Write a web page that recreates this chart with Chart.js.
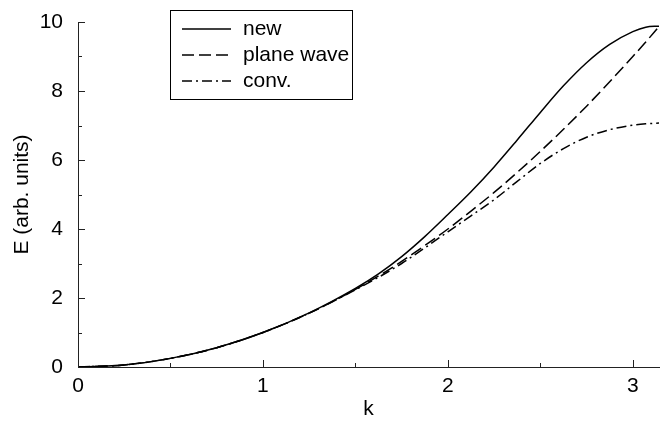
<!DOCTYPE html>
<html>
<head>
<meta charset="utf-8">
<script src="https://cdn.jsdelivr.net/npm/chart.js@4.4.1/dist/chart.umd.min.js"></script>
<style>
    html, body { margin: 0; padding: 0; background: #fff; }
    #wrap { width: 671px; height: 422px; }
</style>
</head>
<body>
<div id="wrap"><canvas id="grafica"></canvas></div>
<script>
// Data
const kValues = [0, 0.25, 0.5, 0.75, 1, 1.25, 1.5, 1.625, 1.75, 1.875, 2, 2.125, 2.25, 2.375,
                 2.5, 2.625, 2.75, 2.875, 3, 3.07, 3.1416];
const newE = [0, 0.06, 0.25, 0.56, 1.0, 1.57, 2.28, 2.7, 3.2, 3.78, 4.42, 5.08, 5.8, 6.58,
              7.38, 8.15, 8.82, 9.35, 9.72, 9.85, 9.88];
const planeWave = [0, 0.06, 0.25, 0.56, 1.0, 1.56, 2.25, 2.64, 3.06, 3.52, 4.0, 4.52, 5.06, 5.64,
                   6.25, 6.89, 7.56, 8.27, 9.0, 9.42, 9.87];
const conv = [0, 0.06, 0.25, 0.56, 1.0, 1.56, 2.24, 2.6, 3.0, 3.45, 3.92, 4.38, 4.85, 5.38,
              5.9, 6.33, 6.66, 6.88, 7.01, 7.05, 7.07];

const xTicks = [0, 1, 2, 3];
const xMinorTicks = [0.5, 1.5, 2.5];
const yTicks = [0, 2, 4, 6, 8, 10];
const yMinorTicks = [1, 3, 5, 7, 9];

const fuente = 'Liberation Sans, Arial, Helvetica, sans-serif';
const tamFuente = 21;

function puntos(valores) {
    return kValues.map((k, i) => ({ x: k, y: valores[i] }));
}

// Inward ticks, major and minor
const ticksPlugin = {
    id: 'ticksDentro',
    afterDraw(chart) {
        const ctx = chart.ctx;
        const xs = chart.scales.x;
        const ys = chart.scales.y;
        const area = chart.chartArea;
        ctx.save();
        ctx.strokeStyle = '#222';
        ctx.lineWidth = 1;
        ctx.beginPath();
        xTicks.concat(xMinorTicks).forEach(v => {
            const largo = xTicks.includes(v) ? 7 : 4;
            const px = Math.round(xs.getPixelForValue(v)) + 0.5;
            ctx.moveTo(px, area.bottom);
            ctx.lineTo(px, area.bottom - largo);
        });
        yTicks.concat(yMinorTicks).forEach(v => {
            const largo = yTicks.includes(v) ? 7 : 4;
            const py = Math.round(ys.getPixelForValue(v)) + 0.5;
            ctx.moveTo(area.left, py);
            ctx.lineTo(area.left + largo, py);
        });
        ctx.stroke();
        ctx.restore();
    }
};

// Boxed legend inside the plot, built from the datasets
const leyendaPlugin = {
    id: 'leyendaCaja',
    afterDraw(chart) {
        const ctx = chart.ctx;
        const caja = { x: 170.5, y: 10.5, w: 182, h: 89 };
        ctx.save();
        ctx.fillStyle = '#fff';
        ctx.fillRect(caja.x, caja.y, caja.w, caja.h);
        ctx.strokeStyle = '#000';
        ctx.lineWidth = 1;
        ctx.strokeRect(caja.x, caja.y, caja.w, caja.h);
        chart.data.datasets.forEach((ds, i) => {
            const y = 29 + i * 26;
            ctx.beginPath();
            ctx.setLineDash(ds.borderDash || []);
            ctx.strokeStyle = ds.borderColor;
            ctx.lineWidth = ds.borderWidth;
            ctx.moveTo(182, y);
            ctx.lineTo(231, y);
            ctx.stroke();
            ctx.setLineDash([]);
            ctx.fillStyle = '#000';
            ctx.font = tamFuente + 'px ' + fuente;
            ctx.textBaseline = 'middle';
            ctx.textAlign = 'left';
            ctx.fillText(ds.label, 243, y);
        });
        ctx.restore();
    }
};

const ctx = document.getElementById('grafica').getContext('2d');
const grafica = new Chart(ctx, {
    type: 'line',
    data: {
        datasets: [
            {
                label: 'new',
                data: puntos(newE),
                borderColor: '#000',
                borderWidth: 1.5,
                borderDash: [],
                pointRadius: 0,
                cubicInterpolationMode: 'monotone',
                fill: false
            },
            {
                label: 'plane wave',
                data: puntos(planeWave),
                borderColor: '#000',
                borderWidth: 1.5,
                borderDash: [12, 5],
                pointRadius: 0,
                cubicInterpolationMode: 'monotone',
                fill: false
            },
            {
                label: 'conv.',
                data: puntos(conv),
                borderColor: '#000',
                borderWidth: 1.5,
                borderDash: [10, 4, 2, 4],
                pointRadius: 0,
                cubicInterpolationMode: 'monotone',
                fill: false
            }
        ]
    },
    options: {
        responsive: true,
        maintainAspectRatio: false,
        animation: false,
        layout: { padding: { top: 22, right: 12, bottom: 0, left: 0 } },
        plugins: {
            legend: { display: false },
            tooltip: { enabled: false }
        },
        scales: {
            x: {
                type: 'linear',
                min: 0,
                max: Math.PI,
                afterBuildTicks: scale => { scale.ticks = xTicks.map(v => ({ value: v })); },
                afterFit: scale => { scale.height = 55; },
                grid: { display: true, drawOnChartArea: false, drawTicks: false },
                border: { display: true, color: '#222', width: 1 },
                ticks: {
                    color: '#000',
                    padding: 7,
                    maxRotation: 0,
                    font: { family: fuente, size: tamFuente }
                },
                title: {
                    display: true,
                    text: 'k',
                    color: '#000',
                    padding: { top: 0, bottom: 0 },
                    font: { family: fuente, size: tamFuente }
                }
            },
            y: {
                min: 0,
                max: 10,
                afterBuildTicks: scale => { scale.ticks = yTicks.map(v => ({ value: v })); },
                afterFit: scale => {
                    scale.width = 78;
                    // the label padding should not push the plot top down
                    scale.paddingTop = 0;
                    scale.paddingBottom = 0;
                },
                grid: { display: true, drawOnChartArea: false, drawTicks: false },
                border: { display: true, color: '#222', width: 1 },
                ticks: {
                    color: '#000',
                    padding: 15,
                    font: { family: fuente, size: tamFuente }
                },
                title: {
                    display: true,
                    text: 'E (arb. units)',
                    color: '#000',
                    padding: { top: 10, bottom: 0 },
                    font: { family: fuente, size: tamFuente }
                }
            }
        }
    },
    plugins: [ticksPlugin, leyendaPlugin]
});
</script>
</body>
</html>
